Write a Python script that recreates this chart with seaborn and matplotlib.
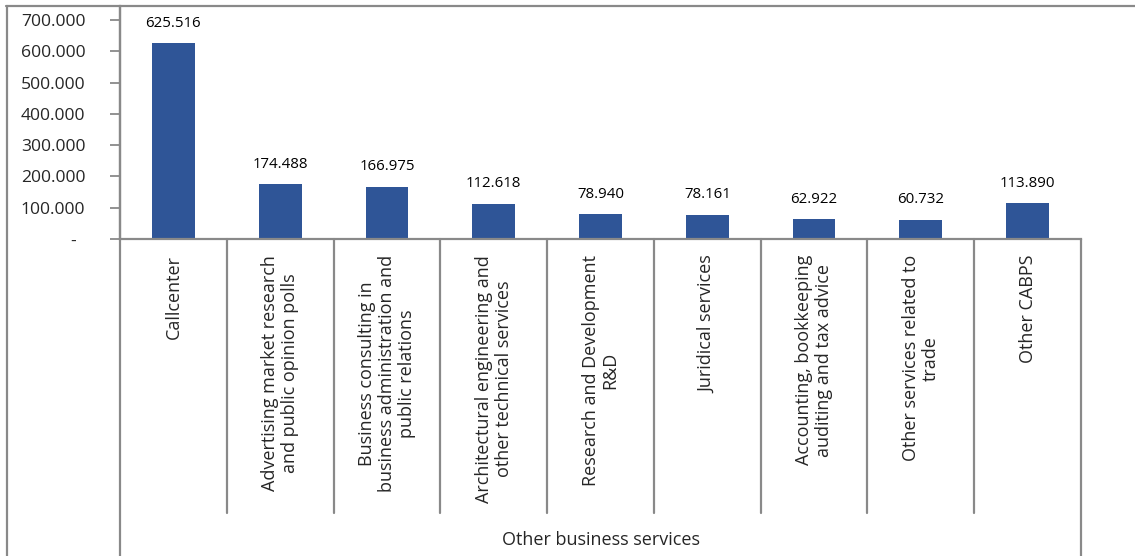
import matplotlib
matplotlib.use("Agg")
import matplotlib.pyplot as plt
import matplotlib.transforms as mtransforms
from matplotlib.lines import Line2D
import seaborn as sns
import pandas as pd

categories = [
    "Callcenter",
    "Advertising market research\nand public opinion polls",
    "Business consulting in\nbusiness administration and\npublic relations",
    "Architectural engineering and\nother technical services",
    "Research and Development\nR&D",
    "Juridical services",
    "Accounting, bookkeeping\nauditing and tax advice",
    "Other services related to\ntrade",
    "Other CABPS",
]
values = [625516, 174488, 166975, 112618, 78940, 78161, 62922, 60732, 113890]
group_label = "Other business services"
yticks = [0, 100000, 200000, 300000, 400000, 500000, 600000, 700000]

def fmt(v):
    return "-  " if v == 0 else f"{v:,}".replace(",", ".")

sns.set_theme(style="white")
plt.rcParams["font.family"] = ["Open Sans", "DejaVu Sans"]

W, H = 1135, 556
fig = plt.figure(figsize=(W / 100, H / 100), dpi=100)
ax_left, ax_right = 120 / W, 1081 / W
ax_top, ax_bottom = 1 - 5.5 / H, 1 - 239 / H
ax = fig.add_axes([ax_left, ax_bottom, ax_right - ax_left, ax_top - ax_bottom])

df = pd.DataFrame({"cat": categories, "val": values})
sns.barplot(data=df, x="cat", y="val", color="#2F5597", width=0.4, ax=ax,
            saturation=1, edgecolor="none")

# y scale: 700.000 at pixel 20, 0 at 239
px_per_unit = (239 - 20) / 700000
ymax = (239 - 5.5) / px_per_unit
ax.set_ylim(0, ymax)
ax.set_xlim(-0.5, len(categories) - 0.5)
ax.set_yticks(yticks)
ax.set_yticklabels([fmt(v) for v in yticks], fontsize=12.6)
ax.tick_params(axis="y", direction="out", length=7, width=1.3, color="#898989",
               pad=18, left=True)
ax.set_xticks(range(len(categories)))
ax.set_xticklabels(categories, rotation=90, fontsize=13.0, va="top", ha="center",
                   multialignment="center", linespacing=1.12)
ax.tick_params(axis="x", length=0, pad=11.5)
ax.set_xlabel("")
ax.set_ylabel("")

grey = "#898989"
for side in ["top", "right"]:
    ax.spines[side].set_visible(False)
for side in ["left", "bottom"]:
    ax.spines[side].set_color(grey)
    ax.spines[side].set_linewidth(1.6)

# data labels
for i, v in enumerate(values):
    ax.annotate(fmt(v), (i, v), xytext=(0, 9), textcoords="offset points",
                ha="center", va="bottom", fontsize=10.8, color="black")

# category separators
trans = mtransforms.blended_transform_factory(ax.transData, fig.transFigure)
y_base = 1 - 239 / H
y_sep = 1 - 513 / H
for b in range(1, len(categories)):
    ax.add_line(Line2D([b - 0.5, b - 0.5], [y_base, y_sep], transform=trans,
                       color=grey, lw=1.6, clip_on=False))
ax.add_line(Line2D([len(categories) - 0.5] * 2, [y_base, 0], transform=trans,
                   color=grey, lw=1.6, clip_on=False))

# frame lines
fig.add_artist(Line2D([ax_left, ax_left], [0, ax_top], transform=fig.transFigure,
                      color=grey, lw=1.6))
fig.add_artist(Line2D([7 / W, 7 / W], [0, 1 - 5.5 / H], transform=fig.transFigure,
                      color=grey, lw=1.6))
fig.add_artist(Line2D([6 / W, 1.0], [1 - 5.5 / H] * 2, transform=fig.transFigure,
                      color=grey, lw=1.6))

# group label
ax.text((len(categories) - 1) / 2, 1 - 540 / H, group_label, transform=trans,
        ha="center", va="center", fontsize=13.0)

fig.savefig("out.png", dpi=100, facecolor="white")
